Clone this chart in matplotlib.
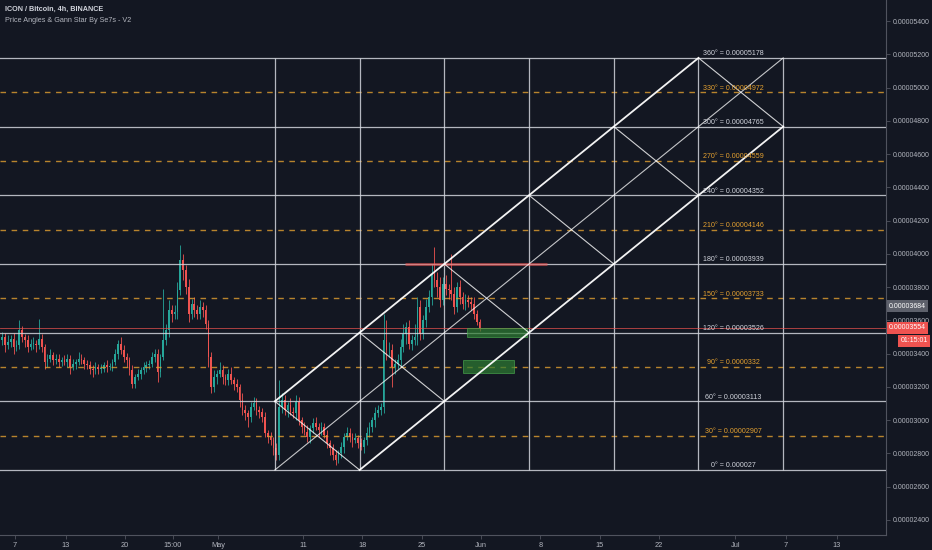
import numpy as np
import matplotlib.pyplot as plt
from matplotlib.patches import Rectangle
from matplotlib.transforms import blended_transform_factory

plt.rcParams['font.family'] = ['Liberation Sans', 'DejaVu Sans']

# 8h candles, prices in satoshi (1e-8 BTC); x in days since Apr 1
first_open = 3480
closes = [3500, 3450, 3470, 3490, 3440, 3450, 3540, 3500, 3480, 3440,
          3460, 3460, 3450, 3490, 3440, 3350, 3370, 3390, 3360, 3370,
          3350, 3360, 3350, 3370, 3320, 3340, 3350, 3370, 3360, 3340,
          3330, 3310, 3300, 3320, 3310, 3310, 3330, 3320, 3320, 3350,
          3400, 3460, 3420, 3380, 3360, 3300, 3220, 3260, 3280, 3300,
          3320, 3330, 3340, 3380, 3400, 3290, 3380, 3480, 3540, 3660,
          3640, 3650, 3780, 3960, 3900, 3800, 3640, 3700, 3660, 3640,
          3680, 3660, 3580, 3380, 3200, 3260, 3280, 3300, 3260, 3240,
          3280, 3240, 3220, 3200, 3120, 3060, 3040, 3020, 3080, 3100,
          3060, 3050, 3020, 2920, 2900, 2880, 2830, 2790, 3080, 3120,
          3060, 3090, 3050, 3040, 3110, 3000, 2960, 2930, 2900, 2950,
          2980, 2960, 2940, 2960, 2910, 2860, 2830, 2790, 2760, 2800,
          2840, 2900, 2920, 2900, 2880, 2890, 2860, 2840, 2880, 2920,
          2960, 3000, 3040, 3060, 3080, 3480, 3420, 3420, 3320, 3340,
          3360, 3440, 3520, 3560, 3460, 3480, 3500, 3680, 3520, 3600,
          3680, 3740, 3880, 3840, 3800, 3720, 3820, 3790, 3780, 3760,
          3680, 3800, 3740, 3700, 3720, 3710, 3700, 3640, 3590, 3554]
wick_hi = [30, 25, 40, 20, 35, 30, 60, 25, 20, 30,
           25, 40, 20, 120, 30, 20, 25, 35, 20, 30,
           25, 20, 30, 25, 20, 30, 20, 40, 25, 20,
           20, 25, 20, 30, 20, 25, 20, 30, 25, 20,
           30, 20, 40, 30, 25, 20, 30, 20, 25, 20,
           30, 25, 20, 30, 25, 30, 20, 310, 40, 60,
           30, 40, 50, 90, 40, 30, 50, 30, 40, 30,
           40, 30, 30, 20, 30, 40, 20, 50, 30, 20,
           30, 40, 20, 30, 20, 40, 30, 20, 30, 40,
           30, 25, 20, 30, 20, 30, 20, 30, 160, 40,
           30, 20, 40, 30, 40, 30, 20, 30, 40, 20,
           30, 40, 20, 30, 20, 30, 20, 25, 30, 20,
           30, 20, 40, 30, 20, 30, 20, 30, 20, 40,
           30, 20, 40, 30, 20, 160, 120, 50, 40, 30,
           40, 50, 60, 30, 40, 30, 80, 60, 40, 30,
           50, 40, 60, 160, 50, 60, 40, 50, 30, 220,
           40, 30, 40, 30, 40, 30, 30, 40, 20, 20]
wick_lo = [30, 40, 20, 30, 40, 25, 20, 30, 40, 30,
           20, 30, 40, 20, 30, 40, 30, 20, 30, 25,
           30, 25, 20, 30, 40, 20, 30, 20, 25, 30,
           25, 30, 40, 20, 30, 25, 20, 30, 20, 25,
           20, 30, 25, 30, 40, 30, 30, 25, 20, 30,
           20, 30, 25, 20, 30, 60, 30, 20, 30, 40,
           50, 30, 40, 30, 60, 40, 50, 30, 40, 30,
           30, 40, 30, 60, 40, 30, 40, 20, 40, 30,
           30, 20, 40, 30, 40, 30, 40, 60, 30, 20,
           30, 40, 30, 20, 40, 30, 40, 30, 30, 40,
           30, 40, 20, 30, 40, 30, 40, 20, 30, 40,
           30, 20, 40, 30, 20, 30, 40, 30, 30, 20,
           30, 40, 20, 30, 40, 20, 30, 20, 40, 30,
           20, 30, 40, 20, 30, 40, 60, 40, 120, 40,
           30, 40, 30, 60, 30, 40, 30, 50, 40, 30,
           40, 30, 50, 40, 60, 40, 30, 40, 50, 40,
           40, 30, 40, 30, 40, 30, 40, 30, 20, 20]

# Gann levels
angles = [0, 30, 60, 90, 120, 150, 180, 210, 240, 270, 300, 330, 360]
levels = [0.000027, 0.00002907, 0.00003113, 0.0000332, 0.00003526, 0.00003733,
          0.00003939, 0.00004146, 0.00004352, 0.00004559, 0.00004765,
          0.00004972, 0.00005178]
gann_start = 36.67
gann_cell = 10

# time axis
tick_days = [6, 12, 19, 24.625, 30, 40, 47, 54, 61, 68, 75, 82, 91, 97, 103]
tick_text = ['7', '13', '20', '15:00', 'May', '11', '18', '25', 'Jun',
             '8', '15', '22', 'Jul', '7', '13']

last_price = 0.00003554
marked_price = 0.00003684

bg = '#131722'
txt = '#b2b5be'
axis_col = '#50535e'
up_col = '#26a69a'
dn_col = '#ef5350'
gann_white = '#d1d4dc'
gann_orange = '#e3a030'

fig = plt.figure(figsize=(9.32, 5.5), dpi=100, facecolor=bg)
ax = fig.add_axes([0, 15 / 550, 886 / 932, 535 / 550])
ax.set_facecolor(bg)
ax.set_xlim(4.23, 108.8)
ax.set_ylim(0.00002309, 0.000055263)

# candles
c = np.array(closes, dtype=float)
o = np.r_[first_open, c[:-1]]
x = 4.5 + np.arange(len(c)) / 3
hi = np.maximum(o, c) + np.array(wick_hi)
lo = np.minimum(o, c) - np.array(wick_lo)
cols = np.where(c >= o, up_col, dn_col)
ax.vlines(x, lo * 1e-8, hi * 1e-8, colors=cols, lw=0.6, zorder=2)
ax.bar(x, np.maximum(np.abs(c - o), 4) * 1e-8, bottom=np.minimum(o, c) * 1e-8,
       width=0.2, color=cols, lw=0, zorder=2)

# horizontal gann levels
for k, lv in enumerate(levels):
    if k % 2 == 0:
        ax.axhline(lv, color=gann_white, lw=0.9, alpha=0.85, zorder=3)
    else:
        ax.axhline(lv, color=gann_orange, lw=1.0, ls=(0, (4, 4)), alpha=0.8, zorder=3)

# vertical gann lines
for j in range(7):
    ax.vlines(gann_start + j * gann_cell, levels[0], levels[-1],
              color=gann_white, lw=0.9, alpha=0.85, zorder=3)


def pt(j, k):
    return gann_start + j * gann_cell, levels[2 * k]


def seg(p, q, lw, alpha):
    ax.plot([p[0], q[0]], [p[1], q[1]], color='white', lw=lw, alpha=alpha, zorder=4)


seg(pt(0, 1), pt(5, 6), 1.3, 0.95)
seg(pt(1, 0), pt(6, 5), 1.3, 0.95)
seg(pt(0, 0), pt(6, 6), 0.8, 0.75)
for k in range(6):
    seg(pt(k, k + 1), pt(k + 1, k), 0.8, 0.8)

# level labels
for a, lv in zip(angles, levels):
    col = gann_white if a % 60 == 0 else gann_orange
    ax.text(90.8, lv + 0.00000004, f"{a}° = {lv:.8f}".rstrip('0'), color=col,
            fontsize=5.1, ha='center', va='bottom', zorder=5)

# drawings
ax.hlines(0.0000394, 52.05, 68.8, color=dn_col, lw=2.2, alpha=0.55, zorder=3)
ax.axhline(last_price, color=dn_col, lw=0.6, alpha=0.8, zorder=3)
ax.add_patch(Rectangle((59.4, 0.0000350), 7.05, 0.00000052, fc='#2e7d32',
                       ec='#4caf50', lw=0.6, alpha=0.7, zorder=3))
ax.add_patch(Rectangle((58.9, 0.00003283), 6.0, 0.00000079, fc='#2e7d32',
                       ec='#4caf50', lw=0.6, alpha=0.7, zorder=3))

# axes styling
for s in ['top', 'left']:
    ax.spines[s].set_visible(False)
for s in ['right', 'bottom']:
    ax.spines[s].set_color(axis_col)
    ax.spines[s].set_linewidth(0.8)
ax.yaxis.tick_right()
yt = np.arange(24, 55, 2) * 1e-6
ax.set_yticks(yt, [f"{v:.8f}" for v in yt])
ax.set_xticks(tick_days, tick_text)
ax.tick_params(axis='both', colors=axis_col, labelcolor=txt, labelsize=5,
               length=3, width=0.6, pad=2)
ax.tick_params(axis='x', labelsize=5.3)

# price boxes on the right axis
tr = blended_transform_factory(fig.transFigure, ax.transData)
fig.text(889 / 932, marked_price, '0.00003684', transform=tr, color='white',
         fontsize=5, va='center', ha='left',
         bbox=dict(boxstyle='square,pad=0.35', fc='#5d606b', ec='none'), zorder=10)
fig.text(889 / 932, last_price, '0.00003554', transform=tr, color='white',
         fontsize=5, va='center', ha='left',
         bbox=dict(boxstyle='square,pad=0.35', fc=dn_col, ec='none'), zorder=10)
fig.text(928 / 932, last_price - 0.00000078, '01:15:01', transform=tr, color='white',
         fontsize=5, va='center', ha='right',
         bbox=dict(boxstyle='square,pad=0.35', fc=dn_col, ec='none'), zorder=10)

# titles
fig.text(5 / 932, 1 - 9 / 550, 'ICON / Bitcoin, 4h, BINANCE', color='#d1d4dc',
         fontsize=5.2, weight='bold', va='center', ha='left')
fig.text(5 / 932, 1 - 20 / 550, 'Price Angles & Gann Star By Se7s - V2', color=txt,
         fontsize=5.2, va='center', ha='left')

fig.savefig('out.png', dpi=100, facecolor=bg)
